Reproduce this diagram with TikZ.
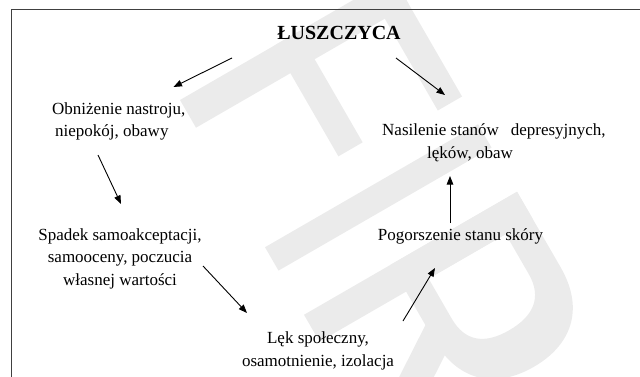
\documentclass[tikz,border=0pt]{standalone}
\usepackage{fontspec}
\setmainfont{Liberation Serif}
\usetikzlibrary{arrows.meta,positioning}

\begin{document}
\begin{tikzpicture}[
  x=1pt, y=1pt,
  heading/.style = {inner sep=0pt, font=\fontsize{20}{24}\selectfont\bfseries},
  txt/.style     = {inner sep=0pt, font=\fontsize{17}{22.5}\selectfont},
  arr/.style     = {-{Triangle[length=8.5pt,width=6.5pt]}, line width=0.9pt},
  wmark/.style   = {fill=black!8, draw=none}
]
\useasboundingbox (0,0) rectangle (640,376);

% watermark in the background
\begin{scope}[shift={(180,276)}, rotate=-60]
  \fill[wmark] (0,0) rectangle (32,246);
  \fill[wmark] (0,218) rectangle (138,246);
  \fill[wmark] (0,109) rectangle (128,137);
  \fill[wmark] (170,0) rectangle (197,246);
  \fill[wmark] (248,0) rectangle (279,246);
  \fill[wmark, even odd rule]
    (248,246) -- (335,246) .. controls (385,246) and (408,215) .. (408,173)
    .. controls (408,131) and (385,100) .. (335,100) -- (248,100) -- cycle
    (279,215) -- (325,215) .. controls (352,215) and (364,198) .. (364,170)
    .. controls (364,142) and (352,126) .. (325,126) -- (279,126) -- cycle;
  \fill[wmark] (315,104) -- (352,104) -- (420,0) -- (383,0) -- cycle;
\end{scope}

% frame
\draw[line width=1.2pt, black!75] (11.5,-2) |- (642,366.5);

\node[heading] (title) at (339,343) {ŁUSZCZYCA};

\node[txt, align=left, anchor=west] (obn) at (52,254.5)
  {Obniżenie nastroju,\\\hspace*{3pt}niepokój, obawy};
\node[txt, align=left, anchor=west] (nas) at (382,233)
  {Nasilenie stanów\hspace{12pt}depresyjnych,\\\hspace*{45pt}lęków, obaw};
\node[txt, align=center] (spad) at (120,117.3)
  {Spadek samoakceptacji,\\samooceny, poczucia\\własnej wartości};
\node[txt] (pog) at (460.5,140) {Pogorszenie stanu skóry};
\node[txt, align=center] (lek) at (318,25)
  {Lęk społeczny,\\osamotnienie, izolacja};

% free ends of the arrows
\coordinate (title-l) at (232,318);
\coordinate (obn-in)  at (173.5,289);
\coordinate (title-r) at (396,318);
\coordinate (nas-in)  at (445,281);
\coordinate (obn-out) at (98,221);
\coordinate (spad-in) at (121,172);
\coordinate (pog-out) at (450,153);
\coordinate (nas-in2) at (450,200);
\coordinate (spad-out) at (203,110);
\coordinate (lek-in)  at (247,63);
\coordinate (lek-out) at (403,55);
\coordinate (pog-in)  at (435,108);

\draw[arr] (title-l)  -- (obn-in);
\draw[arr] (title-r)  -- (nas-in);
\draw[arr] (obn-out)  -- (spad-in);
\draw[arr] (spad-out) -- (lek-in);
\draw[arr] (lek-out)  -- (pog-in);
\draw[arr] (pog-out)  -- (nas-in2);
\end{tikzpicture}
\end{document}
